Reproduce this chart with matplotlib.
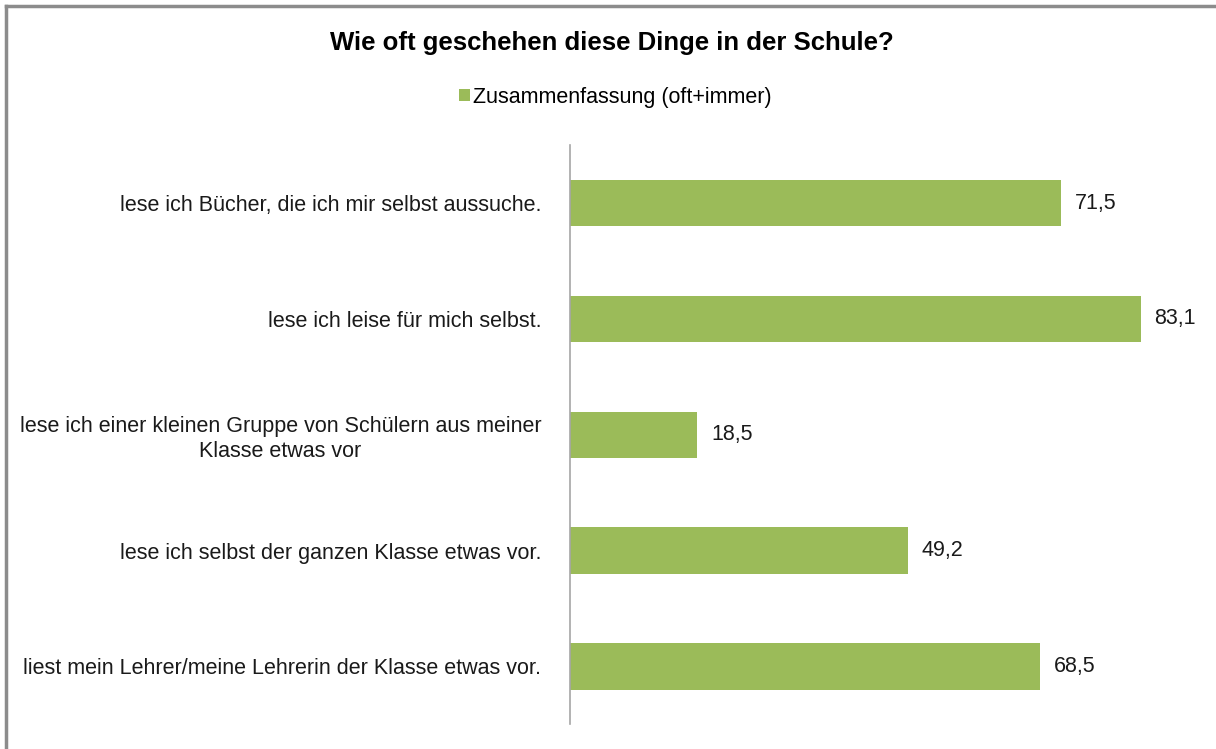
import matplotlib
matplotlib.use('Agg')
import matplotlib.pyplot as plt
from matplotlib.patches import Patch
from matplotlib.lines import Line2D

plt.rcParams['font.family'] = ['Liberation Sans', 'DejaVu Sans']

title = "Wie oft geschehen diese Dinge in der Schule?"
series_name = "Zusammenfassung (oft+immer)"
categories = [
    "lese ich Bücher, die ich mir selbst aussuche.",
    "lese ich leise für mich selbst.",
    "lese ich einer kleinen Gruppe von Schülern aus meiner\nKlasse etwas vor",
    "lese ich selbst der ganzen Klasse etwas vor.",
    "liest mein Lehrer/meine Lehrerin der Klasse etwas vor.",
]
values = [71.5, 83.1, 18.5, 49.2, 68.5]

green = "#9bbb59"
txt = '#1a1a1a'
fs = 15.5

fig = plt.figure(figsize=(12.16, 7.49), dpi=100)
ax = fig.add_axes([0.469, 0.033, 0.508, 0.773])

y = list(range(len(categories)))
ax.barh(y, values, height=0.4, color=green)
ax.set_ylim(len(categories) - 0.5, -0.5)
ax.set_xlim(0, 90)

for yi, v in zip(y, values):
    ax.text(v + 2.0, yi, f"{v:.1f}".replace(".", ","), va='center', ha='left',
            fontsize=fs, color=txt)

ax.set_yticks(y)
ax.set_yticklabels(categories, fontsize=fs, color=txt, multialignment='center',
                   linespacing=1.25)
ax.tick_params(axis='y', length=0, pad=21)
ax.set_xticks([])
for s in ['top', 'right', 'bottom']:
    ax.spines[s].set_visible(False)
ax.spines['left'].set_color('#a6a6a6')
ax.spines['left'].set_linewidth(1.2)

fig.text(0.503, 0.942, title, ha='center', va='center', fontsize=18.5, fontweight='bold')
handle = Patch(facecolor=green, edgecolor='none')
fig.legend([handle], [series_name], loc='center', bbox_to_anchor=(0.506, 0.870),
           frameon=False, fontsize=fs, handlelength=0.5, handleheight=0.5,
           handletextpad=0.15)

# chart frame, clipped on the right and bottom
fig.add_artist(Line2D([0.005, 0.005], [0, 0.992], color='#8c8c8c', lw=2.5,
                      transform=fig.transFigure))
fig.add_artist(Line2D([0.005, 1.0], [0.992, 0.992], color='#8c8c8c', lw=2.5,
                      transform=fig.transFigure))

fig.savefig("out.png", dpi=100, facecolor='white')
